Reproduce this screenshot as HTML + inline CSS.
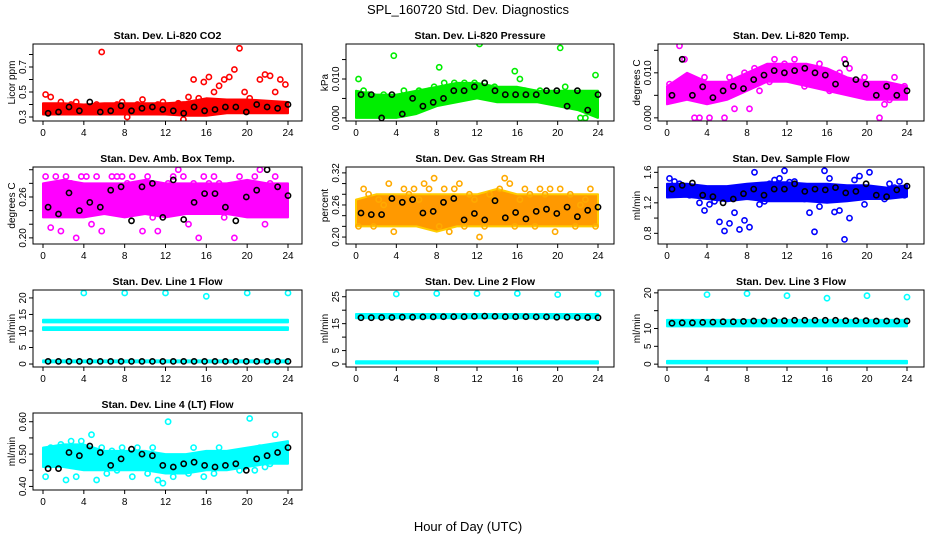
<!DOCTYPE html>
<html><head><meta charset="utf-8"><style>
html,body{margin:0;padding:0;background:#fff;}
svg{display:block;font-family:"Liberation Sans",sans-serif;}
</style></head><body>
<svg id="chart" width="936" height="540" viewBox="0 0 936 540">
<text x="468" y="14" text-anchor="middle" font-size="13">SPL_160720  Std. Dev. Diagnostics</text>
<text x="468" y="531" text-anchor="middle" font-size="13">Hour of Day (UTC)</text>
</svg>
<script>
// ---- data ----
const co2Lo=[0.32,0.32,0.32,0.32,0.32,0.32,0.32,0.31,0.31,0.33,0.33,0.33,0.33];
const co2Hi=[0.41,0.41,0.40,0.41,0.41,0.41,0.41,0.42,0.45,0.44,0.44,0.43,0.42];
const co2Pts=[0.48,0.46,0.38,0.42,0.36,0.40,0.42,0.35,0.38,0.37,0.40,0.82,0.38,0.36,0.40,0.42,0.30,0.36,0.40,0.44,0.38,0.36,0.40,0.42,0.37,0.35,0.41,0.28,0.46,0.60,0.45,0.58,0.62,0.50,0.55,0.60,0.62,0.68,0.85,0.50,0.45,0.40,0.60,0.64,0.63,0.50,0.60,0.56];
const co2Blk=[0.33,0.34,0.38,0.35,0.42,0.34,0.35,0.39,0.35,0.37,0.38,0.36,0.35,0.33,0.38,0.35,0.36,0.38,0.38,0.34,0.40,0.38,0.37,0.40];

const prLo=[0,0,0,0.001,0.003,0.004,0.005,0.004,0.004,0.004,0.003,0.002,0.0];
const prHi=[0.007,0.006,0.006,0.007,0.008,0.009,0.009,0.008,0.008,0.007,0.007,0.007,0.007];
const prPts=[0.010,0.007,0.006,0.003,0.004,0.006,0.005,0.016,0.005,0.007,0.004,0.006,0.007,0.006,0.007,0.008,0.013,0.009,0.007,0.009,0.008,0.009,0.008,0.009,0.019,0.009,0.007,0.008,0.006,0.006,0.007,0.012,0.010,0.007,0.006,0.006,0.007,0.005,0.006,0.006,0.018,0.008,0.006,0.005,0.0,0.0,0.004,0.011];
const prBlk=[0.006,0.006,0.0,0.006,0.001,0.005,0.003,0.004,0.005,0.007,0.007,0.008,0.009,0.007,0.006,0.006,0.006,0.006,0.007,0.007,0.003,0.007,0.002,0.006];

const tpLo=[0.003,0.004,0.003,0.004,0.006,0.008,0.008,0.007,0.006,0.005,0.004,0.004,0.004];
const tpHi=[0.007,0.010,0.008,0.008,0.010,0.012,0.012,0.012,0.011,0.009,0.008,0.008,0.007];
const tpPts=[0.0075,0.004,0.016,0.013,0.006,0.0,0.0,0.009,0.0,0.005,0.007,0.0,0.009,0.002,0.008,0.010,0.002,0.011,0.006,0.010,0.008,0.013,0.011,0.012,0.010,0.013,0.009,0.007,0.011,0.008,0.012,0.010,0.006,0.007,0.010,0.013,0.011,0.008,0.008,0.009,0.007,0.006,0.0,0.003,0.004,0.009,0.006,0.007];
const tpBlk=[0.005,0.013,0.005,0.0069,0.0045,0.006,0.007,0.0065,0.0085,0.0095,0.0105,0.010,0.0105,0.011,0.010,0.0095,0.0075,0.012,0.0085,0.0075,0.005,0.007,0.005,0.006];

const abLo=[0.23,0.23,0.23,0.235,0.23,0.235,0.23,0.235,0.235,0.235,0.23,0.23,0.23];
const abHi=[0.28,0.285,0.28,0.28,0.28,0.285,0.28,0.28,0.28,0.28,0.285,0.28,0.28];
const abPts=[0.29,0.215,0.29,0.21,0.29,0.28,0.20,0.29,0.29,0.22,0.29,0.21,0.26,0.29,0.29,0.29,0.28,0.29,0.25,0.21,0.29,0.23,0.21,0.26,0.28,0.29,0.30,0.29,0.22,0.28,0.20,0.29,0.28,0.29,0.28,0.23,0.27,0.20,0.29,0.28,0.27,0.29,0.30,0.22,0.28,0.29,0.26,0.24];
const abBlk=[0.245,0.235,0.266,0.24,0.252,0.245,0.27,0.275,0.225,0.275,0.28,0.23,0.285,0.227,0.252,0.265,0.265,0.245,0.225,0.26,0.27,0.30,0.275,0.262];

const rhLo=[0.22,0.22,0.22,0.22,0.21,0.22,0.22,0.22,0.22,0.22,0.22,0.22,0.22];
const rhHi=[0.27,0.28,0.28,0.28,0.28,0.28,0.28,0.29,0.28,0.28,0.28,0.28,0.28];
const rhPts=[0.22,0.29,0.28,0.22,0.27,0.26,0.30,0.21,0.34,0.29,0.28,0.29,0.27,0.30,0.29,0.31,0.22,0.29,0.21,0.29,0.30,0.22,0.28,0.27,0.20,0.22,0.28,0.27,0.29,0.31,0.30,0.22,0.27,0.29,0.28,0.22,0.29,0.28,0.29,0.21,0.29,0.18,0.28,0.22,0.26,0.27,0.29,0.22];
const rhBlk=[0.245,0.242,0.242,0.272,0.265,0.270,0.245,0.248,0.265,0.272,0.232,0.244,0.232,0.268,0.236,0.246,0.234,0.248,0.252,0.244,0.256,0.238,0.250,0.256];

const sfLo=[1.27,1.28,1.25,1.22,1.25,1.22,1.22,1.22,1.20,1.22,1.25,1.25,1.28];
const sfHi=[1.45,1.45,1.42,1.42,1.45,1.47,1.47,1.45,1.45,1.43,1.43,1.40,1.43];
const sfPts=[1.52,1.48,1.45,1.40,1.30,1.35,1.20,1.10,1.18,1.22,0.95,0.83,0.93,1.07,0.85,0.97,0.88,1.60,1.18,1.22,1.45,1.50,1.52,1.62,1.47,1.48,1.35,1.25,1.07,0.82,1.15,1.62,1.52,1.08,1.10,0.72,1.00,1.50,1.55,1.18,1.60,1.35,1.30,1.25,1.45,1.40,1.48,1.30];
const sfBlk=[1.38,1.43,1.46,1.30,1.28,1.20,1.25,1.32,1.38,1.30,1.38,1.38,1.45,1.35,1.38,1.37,1.40,1.33,1.35,1.45,1.30,1.28,1.37,1.42];

const outHours=[4,8,12,16,20,24];
const l1Out=[21.5,21.5,21.5,20.5,21.5,21.5];
const l1BandA=[10.3,11.1]; const l1BandB=[12.6,13.4]; const l1BandC=[0.5,1.1];
const l1Blk=[0.8,0.8,0.8,0.8,0.8,0.8,0.8,0.8,0.8,0.8,0.8,0.8,0.8,0.8,0.8,0.8,0.8,0.8,0.8,0.8,0.8,0.8,0.8,0.8];
const l2Out=[26,26.2,26.2,26.2,25.8,26];
const l2BandA=[17.0,18.6]; const l2BandB=[0.2,1.0];
const l2Blk=[17.2,17.2,17.3,17.3,17.4,17.4,17.5,17.5,17.6,17.6,17.6,17.7,17.8,17.7,17.6,17.6,17.6,17.5,17.5,17.4,17.4,17.3,17.3,17.2];
const l3Out=[19.5,19.8,19.2,18.5,19.2,18.8];
const l3BandA=[10.6,12.4]; const l3BandB=[0.2,0.9];
const l3Blk=[11.5,11.6,11.6,11.7,11.8,11.9,11.9,12.0,12.1,12.1,12.2,12.2,12.3,12.3,12.3,12.3,12.3,12.2,12.2,12.2,12.1,12.1,12.1,12.1];

const l4Lo=[0.46,0.46,0.45,0.45,0.45,0.45,0.44,0.44,0.45,0.45,0.46,0.47,0.47];
const l4Hi=[0.52,0.53,0.53,0.51,0.51,0.51,0.50,0.50,0.51,0.51,0.52,0.53,0.54];
const l4Pts=[0.43,0.52,0.47,0.53,0.42,0.54,0.43,0.54,0.47,0.56,0.42,0.52,0.44,0.51,0.45,0.52,0.47,0.43,0.52,0.46,0.44,0.52,0.42,0.41,0.60,0.43,0.45,0.47,0.44,0.52,0.47,0.43,0.48,0.44,0.52,0.47,0.46,0.49,0.45,0.46,0.61,0.45,0.52,0.46,0.47,0.56,0.52,0.50];
const l4Blk=[0.455,0.455,0.505,0.495,0.525,0.505,0.465,0.485,0.515,0.50,0.495,0.465,0.46,0.47,0.475,0.465,0.46,0.465,0.47,0.45,0.485,0.495,0.505,0.52];

const xTicks=[0,4,8,12,16,20,24];
const bandHours=[0,2,4,6,8,10,12,14,16,18,20,22,24];

// ---- drawing ----
const NS='http://www.w3.org/2000/svg';
const svg=document.getElementById('chart');
function mk(tag,attrs,parent){const e=document.createElementNS(NS,tag);for(const k in attrs)e.setAttribute(k,attrs[k]);(parent||svg).appendChild(e);return e;}
const colX=[[33,302,43,288],[346,614,356,598],[658,924,667,907]];
const rowY=[[44,121],[167,244],[290,367],[413,490]];

function panel(p){
  const [L,R,x0,x24]=colX[p.col];const [T,B]=rowY[p.row];
  const g=mk('g',{});
  
  
  const sx=h=>x0+(x24-x0)*h/24;
  const sy=v=>B-(B-T)*(v-p.ymin)/(p.ymax-p.ymin);
  const cid='c'+p.name;
  const cp=mk('clipPath',{id:cid},g);mk('rect',{x:L,y:T,width:R-L,height:B-T},cp);
  const data=mk('g',{'clip-path':'url(#'+cid+')'},g);
  (p.bands||[]).forEach(bd=>{
    let pts=[];
    if(bd.lo.length===2){pts=[[0,bd.lo[1]],[24,bd.lo[1]],[24,bd.lo[0]],[0,bd.lo[0]]];}
    else{bandHours.forEach((h,i)=>pts.push([h,bd.hi[i]]));for(let i=bandHours.length-1;i>=0;i--)pts.push([bandHours[i],bd.lo[i]]);}
    const poly=mk('polygon',{points:pts.map(q=>sx(q[0]).toFixed(1)+','+sy(q[1]).toFixed(1)).join(' '),fill:bd.fill||p.color,stroke:p.color,'stroke-width':2,'stroke-linejoin':'round'},data);
    
    
  });
  function dot(h,v,c){return mk('circle',{cx:sx(h).toFixed(1),cy:sy(v).toFixed(1),r:2.6,fill:'none',stroke:c,'stroke-width':1.6},data);}
  if(p.pts){p.pts.forEach((v,i)=>{const e=dot(0.25+0.5*i,v,p.ptColor||p.color);
    
    });}
  if(p.outV){p.outV.forEach((v,i)=>{const e=dot(outHours[i],v,p.color);
    
    });}
  if(p.blk){const n=p.blk.length;p.blk.forEach((v,i)=>{const e=dot(0.5+i*23.5/(n-1),v,'#000');
    
    });}
  mk('rect',{x:L,y:T,width:R-L,height:B-T,fill:'none',stroke:'#000','stroke-width':1},g);
  xTicks.forEach(t=>{const x=sx(t);mk('line',{x1:x,y1:B,x2:x,y2:B+4,stroke:'#000'},g);
    const tx=mk('text',{x:x,y:B+15,'text-anchor':'middle','font-size':10},g);tx.textContent=t;
    
    });
  p.yt.forEach(t=>{const y=sy(t);mk('line',{x1:L,y1:y,x2:L-4,y2:y,stroke:'#000'},g);});
  p.yl.forEach(t=>{const y=sy(t);const tx=mk('text',{x:0,y:0,'text-anchor':'middle','font-size':10,transform:`translate(${L-7},${y}) rotate(-90)`},g);tx.textContent=t;
    
    });
  const yt=mk('text',{x:0,y:0,'text-anchor':'middle','font-size':10,transform:`translate(${L-18},${(T+B)/2}) rotate(-90)`},g);yt.textContent=p.ylab;
  
  
  const ti=mk('text',{x:(L+R)/2,y:T-5,'text-anchor':'middle','font-size':10.5,'font-weight':'bold'},g);ti.textContent=p.title;
  
  
}
const RED='#ff0000',GRN='#00ee00',MAG='#ff00ff',CY='#00ffff';
panel({name:'panel-co2',col:0,row:0,title:'Stan. Dev. Li-820 CO2',ylab:'Licor ppm',color:RED,ymin:0.268,ymax:0.884,yt:[0.3,0.4,0.5,0.6,0.7,0.8],yl:['0.3','0.5','0.7'],bands:[{lo:co2Lo,hi:co2Hi}],pts:co2Pts,blk:co2Blk});
panel({name:'panel-pressure',col:1,row:0,title:'Stan. Dev. Li-820 Pressure',ylab:'kPa',color:GRN,ymin:-0.0008,ymax:0.019,yt:[0,0.005,0.010,0.015],yl:['0.000','0.010'],bands:[{lo:prLo,hi:prHi}],pts:prPts,blk:prBlk});
panel({name:'panel-temp',col:2,row:0,title:'Stan. Dev. Li-820 Temp.',ylab:'degrees C',color:MAG,ymin:-0.0007,ymax:0.0164,yt:[0,0.005,0.010,0.015],yl:['0.000','0.010'],bands:[{lo:tpLo,hi:tpHi}],pts:tpPts,blk:tpBlk});
panel({name:'panel-ambbox',col:0,row:1,title:'Stan. Dev. Amb. Box Temp.',ylab:'degrees C',color:MAG,ymin:0.191,ymax:0.304,yt:[0.20,0.22,0.24,0.26,0.28,0.30],yl:['0.20','0.26'],bands:[{lo:abLo,hi:abHi}],pts:abPts,blk:abBlk});
panel({name:'panel-rh',col:1,row:1,title:'Stan. Dev. Gas Stream RH',ylab:'percent',color:'#ffcc00',ptColor:'#ffaa00',ymin:0.187,ymax:0.331,yt:[0.20,0.22,0.24,0.26,0.28,0.30,0.32],yl:['0.20','0.26','0.32'],bands:[{lo:rhLo,hi:rhHi,fill:'#ff9900'}],pts:rhPts,blk:rhBlk});
panel({name:'panel-sampleflow',col:2,row:1,title:'Stan. Dev. Sample Flow',ylab:'ml/min',color:'#0000ff',ymin:0.66,ymax:1.67,yt:[0.8,1.0,1.2,1.4,1.6],yl:['0.8','1.2','1.6'],bands:[{lo:sfLo,hi:sfHi}],pts:sfPts,blk:sfBlk});
panel({name:'panel-line1',col:0,row:2,title:'Stan. Dev. Line 1 Flow',ylab:'ml/min',color:CY,ymin:-0.9,ymax:22.4,yt:[0,5,10,15,20],yl:['0','5','10','15','20'],bands:[{lo:l1BandA},{lo:l1BandB},{lo:l1BandC}],outV:l1Out,blk:l1Blk});
panel({name:'panel-line2',col:1,row:2,title:'Stan. Dev. Line 2 Flow',ylab:'ml/min',color:CY,ymin:-1.1,ymax:27.5,yt:[0,5,10,15,20,25],yl:['0','5','15','25'],bands:[{lo:l2BandA},{lo:l2BandB}],outV:l2Out,blk:l2Blk});
panel({name:'panel-line3',col:2,row:2,title:'Stan. Dev. Line 3 Flow',ylab:'ml/min',color:CY,ymin:-0.8,ymax:20.8,yt:[0,5,10,15,20],yl:['0','5','10','20'],bands:[{lo:l3BandA},{lo:l3BandB}],outV:l3Out,blk:l3Blk});
panel({name:'panel-line4',col:0,row:3,title:'Stan. Dev. Line 4 (LT) Flow',ylab:'ml/min',color:CY,ymin:0.389,ymax:0.627,yt:[0.40,0.45,0.50,0.55,0.60],yl:['0.40','0.50','0.60'],bands:[{lo:l4Lo,hi:l4Hi}],pts:l4Pts,blk:l4Blk});
</script>
</body></html>
